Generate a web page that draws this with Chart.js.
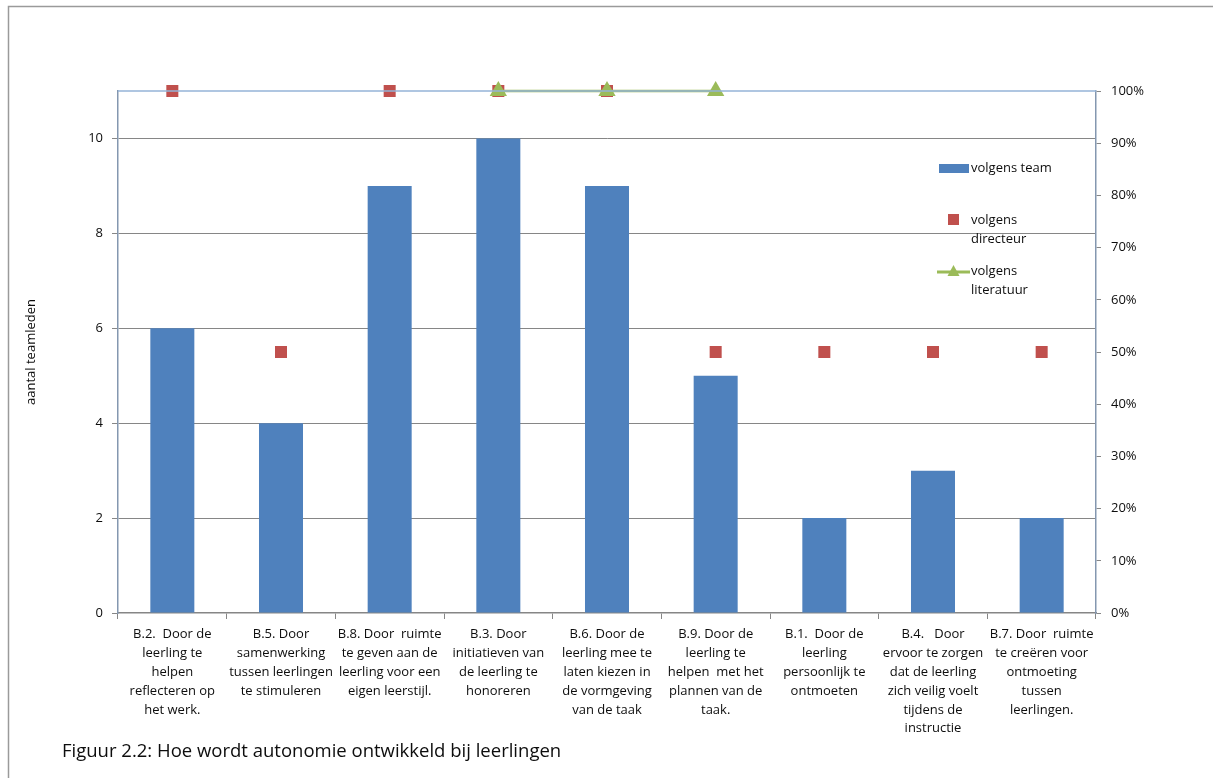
<!DOCTYPE html>
<html>
<head>
<meta charset="utf-8">
<script src="https://cdn.jsdelivr.net/npm/chart.js@4/dist/chart.umd.min.js"></script>
<style>
  html, body { margin: 0; padding: 0; background: #fff; }
  #wrap { position: relative; width: 1213px; height: 778px; }
</style>
</head>
<body>
<div id="wrap"><canvas id="c" width="1213" height="778"></canvas></div>
<script>
// Categories (multi-line labels as shown under each bar)
const categories = [
  ["B.2.  Door de", "leerling te", "helpen", "reflecteren op", "het werk."],
  ["B.5. Door", "samenwerking", "tussen leerlingen", "te stimuleren"],
  ["B.8. Door  ruimte", "te geven aan de", "leerling voor een", "eigen leerstijl."],
  ["B.3. Door", "initiatieven van", "de leerling te", "honoreren"],
  ["B.6. Door de", "leerling mee te", "laten kiezen in", "de vormgeving", "van de taak"],
  ["B.9. Door de", "leerling te", "helpen  met het", "plannen van de", "taak."],
  ["B.1.  Door de", "leerling", "persoonlijk te", "ontmoeten"],
  ["B.4.   Door", "ervoor te zorgen", "dat de leerling", "zich veilig voelt", "tijdens de", "instructie"],
  ["B.7. Door  ruimte", "te creëren voor", "ontmoeting", "tussen", "leerlingen."]
];

// Number of team members per item
const teamValues = [6, 4, 9, 10, 9, 5, 2, 3, 2];
// Director's view, percent
const directeurValues = [100, 50, 100, 100, 100, 50, 50, 50, 50];
// Literature, percent
const literatuurValues = [null, null, null, 100, 100, 100, null, null, null];

// Axis ticks
const leftTicks = { min: 0, max: 11, step: 2 };
const rightTicks = { min: 0, max: 100, step: 10 };

const seriesNames = ["volgens team", "volgens directeur", "volgens literatuur"];
const titleText = "Figuur 2.2: Hoe wordt autonomie ontwikkeld bij leerlingen";
const yTitle = "aantal teamleden";

const FONT = "'Open Sans', 'Liberation Sans', sans-serif";
const BLUE = "#4F81BD", RED = "#C0504D", GREEN = "#9BBB59";
const TEXT = "#0d0d0d";

// Frame, plot top border, legend and caption
const decor = {
  id: "decor",
  beforeDraw(chart) {
    const ctx = chart.ctx;
    ctx.save();
    ctx.strokeStyle = "#9a9a9a";
    ctx.lineWidth = 1.5;
    ctx.beginPath();
    ctx.moveTo(8.5, 778);
    ctx.lineTo(8.5, 6.5);
    ctx.lineTo(1213, 6.5);
    ctx.stroke();
    ctx.restore();
  },
  afterDatasetsDraw(chart) {
    const ctx = chart.ctx;
    const a = chart.chartArea;
    ctx.save();
    // top edge of plot area
    ctx.strokeStyle = "#95B3D7";
    ctx.lineWidth = 1.5;
    ctx.beginPath();
    ctx.moveTo(a.left, a.top);
    ctx.lineTo(a.right, a.top);
    ctx.stroke();
    ctx.restore();
  },
  afterDraw(chart) {
    const ctx = chart.ctx;
    ctx.save();
    ctx.font = "13px " + FONT;
    ctx.fillStyle = TEXT;
    ctx.textBaseline = "middle";
    ctx.textAlign = "left";
    // legend: bar
    ctx.fillStyle = BLUE;
    ctx.fillRect(939, 164, 30, 9);
    ctx.fillStyle = TEXT;
    ctx.fillText("volgens team", 971, 168);
    // legend: square
    ctx.fillStyle = RED;
    ctx.fillRect(948, 214, 11, 11);
    ctx.fillStyle = TEXT;
    ctx.fillText("volgens", 971, 220);
    ctx.fillText("directeur", 971, 239);
    // legend: line with triangle
    ctx.strokeStyle = GREEN;
    ctx.lineWidth = 3;
    ctx.beginPath();
    ctx.moveTo(937, 272);
    ctx.lineTo(970, 272);
    ctx.stroke();
    ctx.fillStyle = GREEN;
    ctx.beginPath();
    ctx.moveTo(953.5, 265);
    ctx.lineTo(959.5, 276);
    ctx.lineTo(947.5, 276);
    ctx.closePath();
    ctx.fill();
    ctx.fillStyle = TEXT;
    ctx.fillText("volgens", 971, 271);
    ctx.fillText("literatuur", 971, 290);
    // caption
    ctx.font = "18.5px " + FONT;
    ctx.fillText(titleText, 62, 752);
    ctx.restore();
  }
};

new Chart(document.getElementById("c"), {
  data: {
    labels: categories,
    datasets: [
      {
        type: "line",
        label: seriesNames[2],
        data: literatuurValues,
        yAxisID: "y1",
        borderColor: GREEN,
        backgroundColor: GREEN,
        borderWidth: 2.5,
        pointStyle: "triangle",
        pointRadius: 10,
        pointBorderWidth: 0,
        spanGaps: false,
        clip: false,
        order: 0
      },
      {
        type: "line",
        label: seriesNames[1],
        data: directeurValues,
        yAxisID: "y1",
        showLine: false,
        backgroundColor: RED,
        borderColor: RED,
        pointStyle: "rect",
        pointRadius: 8.5,
        pointBorderWidth: 0,
        clip: false,
        order: 1
      },
      {
        type: "bar",
        label: seriesNames[0],
        data: teamValues,
        yAxisID: "y",
        backgroundColor: BLUE,
        categoryPercentage: 1,
        barPercentage: 0.405,
        order: 2
      }
    ]
  },
  options: {
    responsive: false,
    devicePixelRatio: 1,
    animation: false,
    layout: { padding: { left: 8, top: 91, right: 0, bottom: 0 } },
    plugins: {
      legend: { display: false },
      tooltip: { enabled: false },
      title: { display: false }
    },
    scales: {
      x: {
        offset: true,
        grid: {
          offset: true,
          drawOnChartArea: false,
          drawTicks: true,
          tickLength: 6,
          color: "#868686"
        },
        border: { color: "#868686", width: 1.5 },
        ticks: {
          autoSkip: false,
          maxRotation: 0,
          minRotation: 0,
          padding: 6,
          color: TEXT,
          font: { family: FONT, size: 13, lineHeight: 1.45 }
        },
        afterFit(scale) { scale.height = 165; }
      },
      y: {
        position: "left",
        min: leftTicks.min,
        max: leftTicks.max,
        ticks: {
          stepSize: leftTicks.step,
          includeBounds: false,
          padding: 9,
          color: TEXT,
          font: { family: FONT, size: 13 }
        },
        grid: {
          color: (c) => (c.tick && c.tick.value === 0 ? "rgba(0,0,0,0)" : "#868686"),
          tickColor: "#868686",
          tickLength: 6,
          lineWidth: 1
        },
        border: { color: "#8497B0", width: 1.5 },
        title: {
          display: true,
          text: yTitle,
          color: TEXT,
          font: { family: FONT, size: 13 },
          padding: { top: 15, bottom: 0 }
        },
        afterFit(scale) { scale.width = 110; }
      },
      y1: {
        position: "right",
        min: rightTicks.min,
        max: rightTicks.max,
        ticks: {
          stepSize: rightTicks.step,
          padding: 10,
          color: TEXT,
          font: { family: FONT, size: 13 },
          callback: (v) => v + "%"
        },
        grid: {
          drawOnChartArea: false,
          tickColor: "#868686",
          tickLength: 5
        },
        border: { color: "#8497B0", width: 1.5 },
        afterFit(scale) { scale.width = 117; }
      }
    }
  },
  plugins: [decor]
});
</script>
</body>
</html>
